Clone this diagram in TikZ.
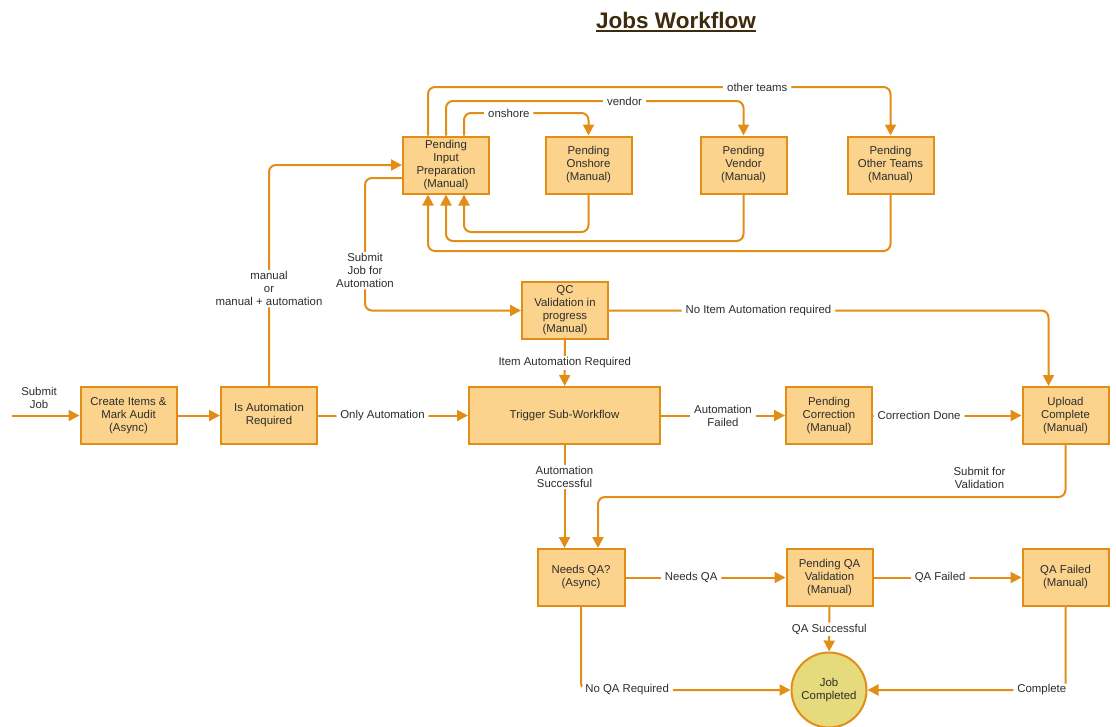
\documentclass[tikz,border=0pt]{standalone}
\usepackage{fontspec}
\setmainfont{Liberation Sans}
\usetikzlibrary{arrows.meta}
\definecolor{wffill}{RGB}{251,211,140}
\definecolor{wfline}{RGB}{226,142,22}
\definecolor{wfdone}{RGB}{229,218,124}
\definecolor{wftext}{RGB}{45,45,45}
\definecolor{wftitle}{RGB}{61,43,12}
\newcommand{\boxW}{86pt}
\newcommand{\boxH}{57pt}
\newcommand{\wfTitle}[1]{\setbox0\hbox{#1}\rlap{\rule[-3.5pt]{\wd0}{1.8pt}}\box0}

\begin{document}
\begin{tikzpicture}[x=1pt,y=-1pt,
        font=\fontsize{11.4}{13}\selectfont,
        wfbox/.style={draw=wfline, fill=wffill, line width=2pt, minimum width=\boxW,
            minimum height=\boxH, align=center, text=wftext, inner sep=1pt},
        flow/.style={draw=wfline, line width=2pt, rounded corners=7pt,
            -{Triangle[length=11pt,width=11pt]}},
        lbl/.style={fill=white, inner xsep=4pt, inner ysep=1.5pt, text=wftext, align=center}]

        \useasboundingbox (0,0) rectangle (1116,726);

        % Title
        \node[font=\fontsize{22.5}{26}\selectfont\bfseries, text=wftitle] (title) at (676,22) {\wfTitle{Jobs Workflow}};

        % Top row: preparation and pending states
        \node[wfbox] (input) at (446,165) {Pending\\Input\\Preparation\\(Manual)};
        \node[wfbox] (onshore) at (588.5,165) {Pending\\Onshore\\(Manual)};
        \node[wfbox] (vendor) at (743.5,165) {Pending\\Vendor\\(Manual)};
        \node[wfbox] (other) at (890.5,165) {Pending\\Other Teams\\(Manual)};

        % Middle rows
        \node[wfbox] (qc) at (565,310.5) {QC\\Validation in\\progress\\(Manual)};
        \node[wfbox, minimum width=96pt] (create) at (128.5,415.5) {Create Items \&\\Mark Audit\\(Async)};
        \node[wfbox, minimum width=96pt] (isauto) at (269,415.5) {Is Automation\\Required};
        \node[wfbox, minimum width=191pt] (trigger) at (564.5,415.5) {Trigger Sub-Workflow};
        \node[wfbox] (correction) at (829,415.5) {Pending\\Correction\\(Manual)};
        \node[wfbox] (upload) at (1065.5,415.5) {Upload\\Complete\\(Manual)};

        % Bottom row
        \node[wfbox, minimum width=87pt] (needqa) at (581,577.5) {Needs QA?\\(Async)};
        \node[wfbox] (pendqa) at (829.5,577.5) {Pending QA\\Validation\\(Manual)};
        \node[wfbox] (qafail) at (1065.5,577.5) {QA Failed\\(Manual)};
        \node[wfbox, circle, fill=wfdone, minimum size=75pt] (done) at (829,690) {Job\\Completed};

        % Entry
        \coordinate (start) at (12,415.5);
        \draw[flow] (start) -- (create) node[lbl, pos=0.4, above=4pt, fill=none] {Submit\\Job};
        \draw[flow] (create) -- (isauto);
        \draw[flow] (isauto) -- (trigger) node[lbl, pos=0.43] {Only Automation};
        \draw[flow] (isauto.north) |- (input.west) node[lbl, pos=0.22] {manual\\or\\manual + automation};
        \draw[flow] ([yshift=-13pt]input.west) -- ++(-37,0) |- (qc.west) node[lbl, pos=0.35] {Submit\\Job for\\Automation};

        % Loops to the pending states
        \draw[flow] ([xshift=18pt]input.north) -- ++(0,-22.5) -| (onshore.north) node[lbl, pos=0.18] {onshore};
        \draw[flow] (input.north) -- ++(0,-34.5) -| (vendor.north) node[lbl, pos=0.3] {vendor};
        \draw[flow] ([xshift=-18pt]input.north) -- ++(0,-48.5) -| (other.north) node[lbl, pos=0.356] {other teams};
        \draw[flow] (onshore.south) -- ++(0,37.5) -| ([xshift=18pt]input.south);
        \draw[flow] (vendor.south) -- ++(0,46.5) -| (input.south);
        \draw[flow] (other.south) -- ++(0,56.5) -| ([xshift=-18pt]input.south);

        % QC and sub-workflow
        \draw[flow] (qc) -- (trigger) node[lbl, midway] {Item Automation Required};
        \draw[flow] (qc.east) -| ([xshift=-17pt]upload.north) node[lbl, pos=0.17] {No Item Automation required};
        \draw[flow] (trigger) -- (correction) node[lbl, midway] {Automation\\Failed};
        \draw[flow] (correction) -- (upload) node[lbl, pos=0.31] {Correction Done};
        \draw[flow] (trigger.south) -- (trigger.south |- needqa.north) node[lbl, pos=0.31] {Automation\\Successful};
        \draw[flow] (upload.south) -- ++(0,52) node[lbl, pos=0.63, left=55pt] {Submit for\\Validation} -| ([xshift=17pt]needqa.north);

        % QA
        \draw[flow] (needqa) -- (pendqa) node[lbl, pos=0.41] {Needs QA};
        \draw[flow] (pendqa) -- (qafail) node[lbl, pos=0.45] {QA Failed};
        \draw[flow] (pendqa) -- (done) node[lbl, midway] {QA Successful};
        \draw[flow] (needqa.south) |- (done.west) node[lbl, pos=0.61] {No QA Required};
        \draw[flow] (qafail.south) |- (done.east) node[lbl, pos=0.56] {Complete};
    \end{tikzpicture}
\end{document}
